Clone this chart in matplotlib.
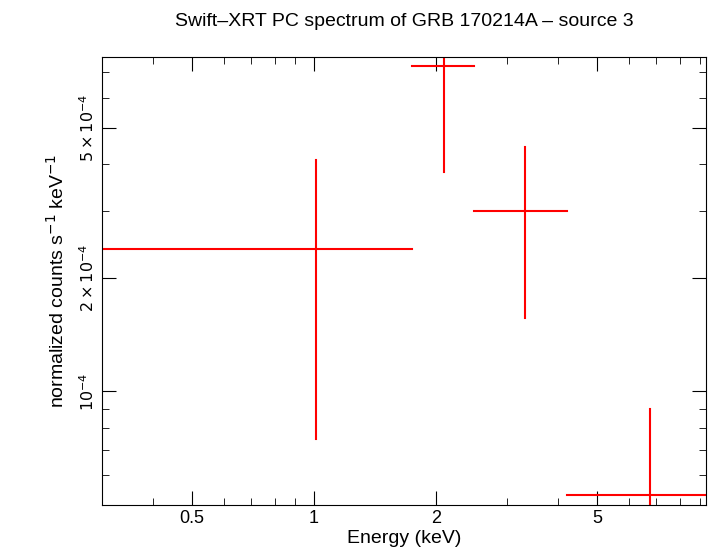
import numpy as np
import matplotlib
matplotlib.use("Agg")
import matplotlib.pyplot as plt
from matplotlib.ticker import FixedLocator, NullFormatter

plt.rcParams["font.family"] = "Liberation Sans"

# spectrum bins
e_lo = [0.3, 1.75, 2.48, 4.22]
e_hi = [1.75, 2.48, 4.22, 9.3]
e_mid = [1.01, 2.1, 3.32, 6.78]
rate = [2.39e-4, 7.28e-4, 3.0e-4, 5.33e-5]
rate_lo = [7.5e-5, 3.81e-4, 1.56e-4, 3.0e-5]
rate_hi = [4.1e-4, 1.0e-3, 4.44e-4, 8.96e-5]

fig = plt.figure(figsize=(7.10, 5.56), dpi=100)
ax = fig.add_axes([102/710, 1-505/556, 604/710, 448/556])

for lo, hi, m, r, rl, rh in zip(e_lo, e_hi, e_mid, rate, rate_lo, rate_hi):
    ax.plot([lo, hi], [r, r], color="red", lw=1.5)
    ax.plot([m, m], [rl, rh], color="red", lw=1.5)

ax.set_xscale("log")
ax.set_yscale("log")
ax.set_xlim(0.3, 9.3)
ax.set_ylim(5e-5, 7.69e-4)

ax.xaxis.set_major_locator(FixedLocator([0.5, 1, 2, 5]))
ax.set_xticklabels(["0.5", "1", "2", "5"])
ax.xaxis.set_minor_locator(FixedLocator([0.3, 0.4, 0.6, 0.7, 0.8, 0.9, 3, 4, 6, 7, 8, 9]))
ax.xaxis.set_minor_formatter(NullFormatter())

ax.yaxis.set_major_locator(FixedLocator([1e-4, 2e-4, 5e-4]))
ax.set_yticklabels([r"$10^{-4}$", r"$2\times10^{-4}$", r"$5\times10^{-4}$"],
                   rotation=90, va="center")
ax.yaxis.set_minor_locator(FixedLocator([6e-5, 7e-5, 8e-5, 9e-5, 3e-4, 4e-4, 6e-4, 7e-4]))
ax.yaxis.set_minor_formatter(NullFormatter())

ax.tick_params(which="both", direction="in", top=True, right=True, labelsize=13)
ax.tick_params(axis="y", labelsize=11.5)
ax.tick_params(which="major", length=10)
ax.tick_params(which="minor", length=5)

ax.set_xlabel("Energy (keV)", fontsize=14, labelpad=2)
ax.set_ylabel(r"normalized counts s$^{-1}$ keV$^{-1}$", fontsize=14, labelpad=8)
ax.set_title("Swift\u2013XRT PC spectrum of GRB 170214A \u2013 source 3", fontsize=14, pad=22)

fig.savefig("out.png")
